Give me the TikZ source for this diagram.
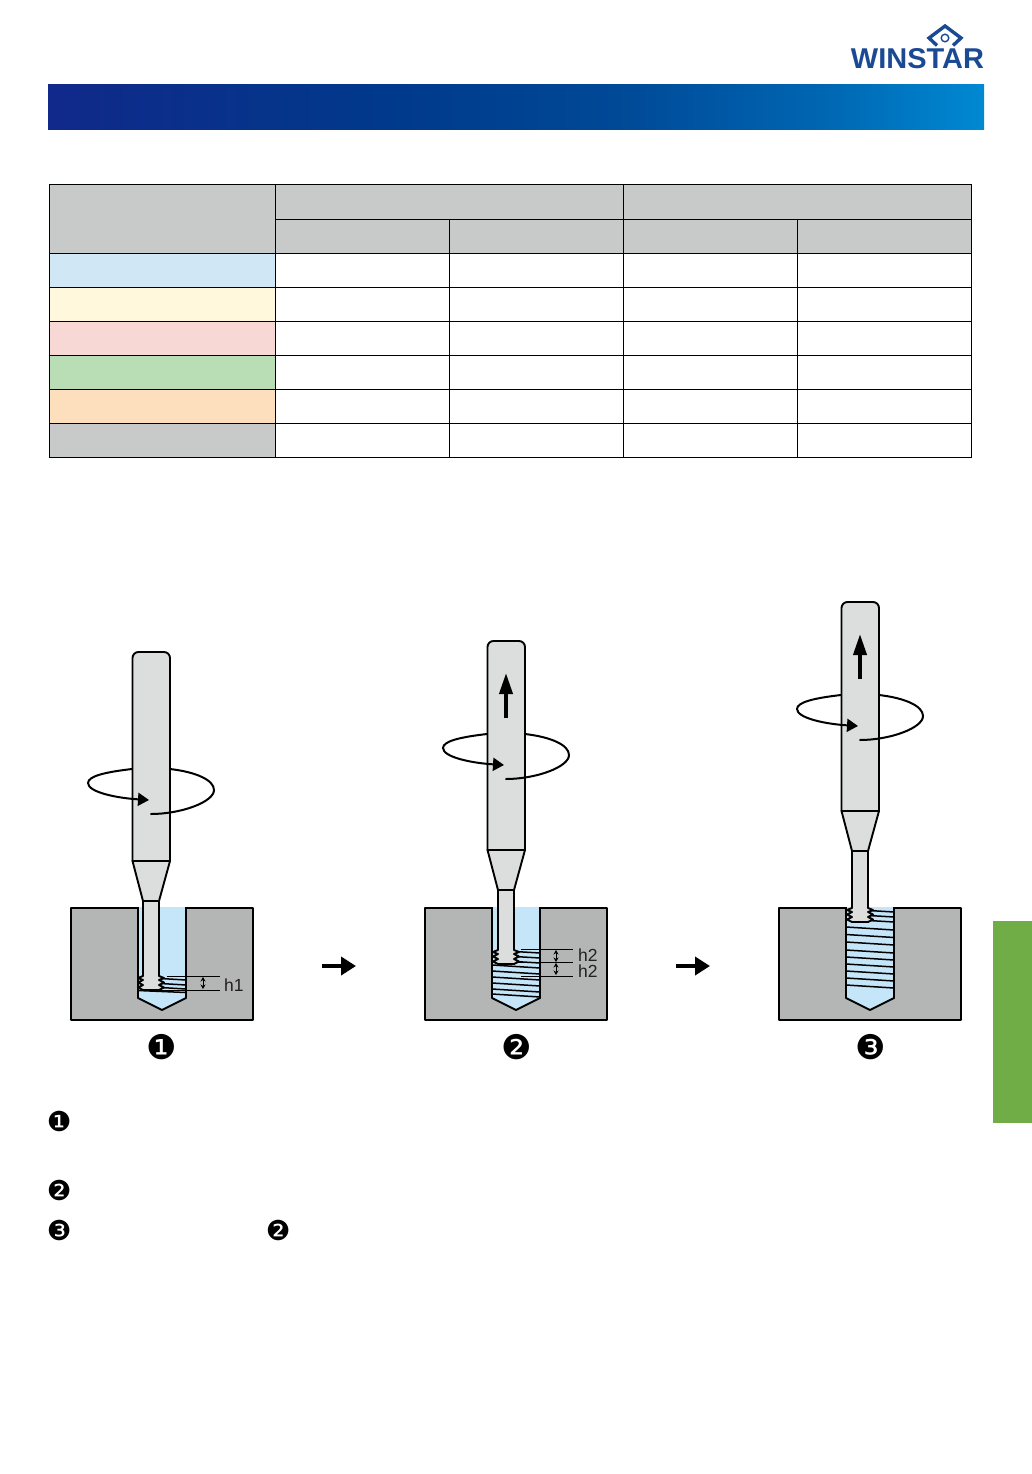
\documentclass[tikz,border=0pt]{standalone}
\usepackage{fontspec}
\setmainfont{Liberation Sans}
\newfontfamily\dejavu{DejaVu Sans}
\usetikzlibrary{arrows.meta}
\definecolor{hdrgray}{HTML}{C8CACA}
\definecolor{ca}{HTML}{D0E7F6}
\definecolor{cb}{HTML}{FFF8DC}
\definecolor{cc}{HTML}{F8D8D4}
\definecolor{cd}{HTML}{B9DDB5}
\definecolor{ce}{HTML}{FDDFBE}
\definecolor{cf}{HTML}{C8C9C9}
\definecolor{blockgray}{HTML}{B4B5B5}
\definecolor{toolgray}{HTML}{DCDDDD}
\definecolor{holeblue}{HTML}{C5E5F8}
\definecolor{tabgreen}{HTML}{70AD47}
\definecolor{logoblue}{HTML}{1B4A94}
\definecolor{inkgray}{HTML}{231F20}
\definecolor{hdr0}{HTML}{10298A}
\definecolor{hdr1}{HTML}{003A8C}
\definecolor{hdr2}{HTML}{004A98}
\definecolor{hdr25}{HTML}{0068B4}
\definecolor{hdr3}{HTML}{0089D2}
\pgfdeclarehorizontalshading{hdrshade}{100bp}{
 color(0bp)=(hdr0); color(25bp)=(hdr0); color(44bp)=(hdr1); color(56bp)=(hdr2); color(67bp)=(hdr25); color(75bp)=(hdr3); color(100bp)=(hdr3)}
\tikzset{
 cell/.style={draw=black,line width=1pt},
 outline/.style={draw=black,line width=1.9pt,line join=round},
 threadline/.style={draw=black,line width=1.5pt},
 dimline/.style={draw=black,line width=1pt},
 dimarrow/.style={draw=black,line width=1pt,{Stealth[length=4.5pt,width=5pt]}-{Stealth[length=4.5pt,width=5pt]}},
 dimtext/.style={text=inkgray,font=\fontsize{17.5}{17.5}\selectfont,inner sep=0pt,text height=13pt,text depth=0pt},
 bignum/.style={font=\dejavu\fontsize{34}{34}\selectfont,inner sep=0pt,text=black},
 smallnum/.style={font=\dejavu\fontsize{27.5}{27.5}\selectfont,inner sep=0pt,text=black},
 fatarrow/.style={draw=black,line width=4.5pt,-{Triangle[length=15pt,width=18pt]}},
 uparrow/.style={draw=black,line width=3.8pt,-{Triangle[length=21pt,width=13pt]}},
 spin/.style={draw=black,line width=2pt,line cap=round},
 spinhead/.style={draw=black,line width=2pt,-{Triangle[length=11pt,width=13pt]}}
}
% block with hole: #1 = left x of block
\newcommand{\blockhole}[1]{%
 \begin{scope}[shift={(#1,908)}]
  \path[fill=blockgray,outline] (0,0) rectangle (182,112);
  \path[fill=holeblue] (67,-1) -- (67,90) -- (91,102) -- (115,90) -- (115,-1) -- cycle;
  \draw[outline] (67,-1) -- (67,90) -- (91,102) -- (115,90) -- (115,-1);
 \end{scope}}
% tool: #1 centre x, #2 top y, #3 neck bottom y relative to top
\newcommand{\drilltool}[3]{%
 \begin{scope}[shift={(#1,#2)}]
  \path[fill=toolgray,outline] (-18.5,209) [rounded corners=6pt] -- (-18.5,0) -- (19,0) [sharp corners] -- (19,209) -- cycle;
  \path[fill=toolgray,outline] (-18.5,209) -- (-8,249) -- (8,249) -- (19,209) -- cycle;
  \path[fill=toolgray,outline] (-8,249) -- (-8,#3-14) -- (-13,#3-12) -- (-8,#3-10) -- (-13,#3-7.5) -- (-8,#3-5) -- (-13,#3-2.5) -- (-8,#3)
   -- (8,#3) -- (13,#3-2.5) -- (8,#3-5) -- (13,#3-7.5) -- (8,#3-10) -- (13,#3-12) -- (8,#3-14) -- (8,249) -- cycle;
 \end{scope}}
% rotation mark: #1 centre x, #2 y of arrow tip
\newcommand{\spinmark}[2]{%
 \begin{scope}[shift={(#1,#2)}]
  \draw[spinhead] (-19,-31) .. controls (-45,-28) and (-63,-24) .. (-63,-17) .. controls (-63,-8) and (-35,-2) .. (-2,0);
  \draw[spin] (19,-31) .. controls (45,-28) and (63,-20) .. (63,-10) .. controls (63,2) and (30,14) .. (0,14);
 \end{scope}}
\begin{document}
\begin{tikzpicture}[x=1pt,y=-1pt]
\useasboundingbox[fill=white] (0,0) rectangle (1032,1474);
% logo
\draw[logoblue,line width=3.4pt,line join=miter] (937,45.5) -- (929,38) -- (945,26) -- (961,38) -- (953,45.5);
\draw[logoblue,line width=1.4pt] (945,38) circle (3.8pt);
\node[anchor=center,inner sep=0pt,text=logoblue] (logo) at (917.5,58.5)
 {\resizebox{133pt}{20pt}{\bfseries WINSTAR}};
% header band
\shade[shading=hdrshade] (48,84.4) rectangle (984,130);
% table
\foreach \xa/\xb in {275/449,449/623,623/797,797/971}{
 \path[cell,fill=hdrgray] (\xa,219) rectangle (\xb,253);
 \foreach \ya in {253,287,321,355,389,423}{
  \path[cell,fill=white] (\xa,\ya) rectangle (\xb,\ya+34);
 }}
\path[cell,fill=hdrgray] (49,185) rectangle (275,253);
\path[cell,fill=hdrgray] (275,185) rectangle (623,219);
\path[cell,fill=hdrgray] (623,185) rectangle (971,219);
\foreach \ya/\co in {253/ca,287/cb,321/cc,355/cd,389/ce,423/cf}{
 \path[cell,fill=\co] (49,\ya) rectangle (275,\ya+34);
}
% green tab
\fill[tabgreen] (993,921) rectangle (1032,1123);
% step 1
\blockhole{71}
\foreach \y in {978,983,987}{ \draw[threadline] (152,\y) -- (186,\y+2); }
\draw[threadline] (138,990.5) -- (186,992.5);
\drilltool{151}{652}{338}
\draw[dimline] (167,976) -- (220,976);
\draw[dimline] (160,990) -- (220,990);
\draw[dimarrow] (203,977) -- (203,989);
\node[dimtext,anchor=west] (hone) at (224,984.5) {h1};
\spinmark{151}{800}
\node[bignum] (numone) at (161.7,1047.5) {❶};
% arrow 1
\coordinate (aonea) at (322,966);
\coordinate (aoneb) at (356,966);
\draw[fatarrow] (aonea) -- (aoneb);
% step 2
\blockhole{425}
\foreach \y in {951,956,961}{ \draw[threadline] (506,\y) -- (540,\y+2); }
\foreach \y in {965,971,977,983,989,994}{ \draw[threadline] (492,\y) -- (540,\y+3); }
\drilltool{506}{641}{323}
\draw[dimline] (521,949) -- (573,949);
\draw[dimline] (516,962.5) -- (573,962.5);
\draw[dimline] (521,976) -- (573,976);
\draw[dimarrow] (556,950) -- (556,962);
\draw[dimarrow] (556,963) -- (556,975);
\node[dimtext,anchor=west] (htwoa) at (578,955) {h2};
\node[dimtext,anchor=west] (htwob) at (578,971) {h2};
\draw[uparrow] (506,718) -- (506,673);
\spinmark{506}{765}
\node[bignum] (numtwo) at (516.7,1047.5) {❷};
% arrow 2
\coordinate (atwoa) at (676,966);
\coordinate (atwob) at (710,966);
\draw[fatarrow] (atwoa) -- (atwob);
% step 3
\blockhole{779}
\foreach \y in {910,915,920}{ \draw[threadline] (860,\y) -- (894,\y+2); }
\foreach \y in {927,934.5,942,950,957,964,971,978,985}{ \draw[threadline] (846,\y) -- (894,\y+3); }
\drilltool{860}{602}{320}
\draw[uparrow] (860,679) -- (860,634);
\spinmark{860}{726}
\node[bignum] (numthree) at (870.7,1047.5) {❸};
% legend marks
\node[smallnum] (la) at (59.3,1121.3) {❶};
\node[smallnum] (lb) at (59.3,1190.3) {❷};
\node[smallnum] (lc) at (59.3,1230.3) {❸};
\node[smallnum] (ld) at (278.3,1230.3) {❷};
\end{tikzpicture}
\end{document}
